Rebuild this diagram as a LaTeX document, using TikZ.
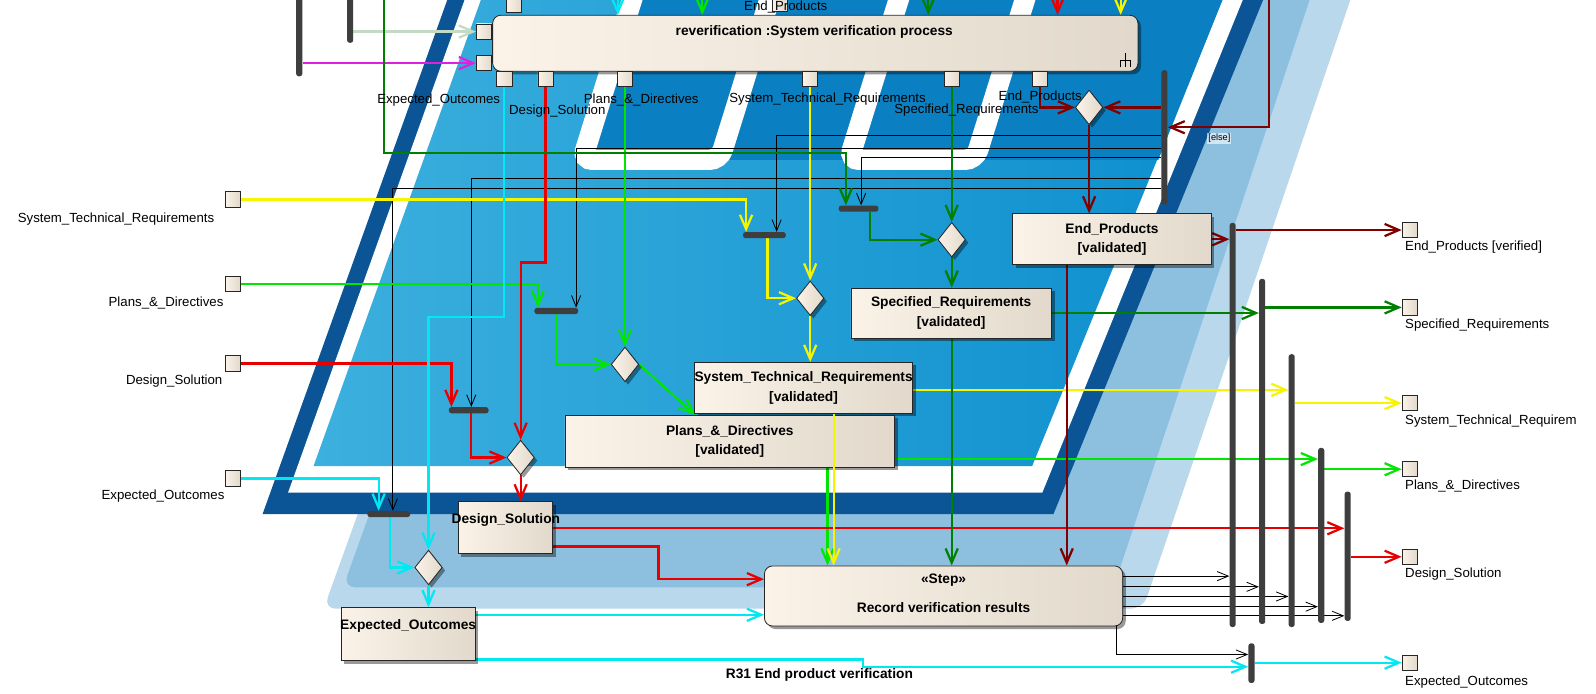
\documentclass[tikz,border=0pt]{standalone}
\usepackage{fontspec}
\setmainfont{Liberation Sans}
\usetikzlibrary{arrows.meta,shapes.geometric,calc,shadows}
\definecolor{nodeL}{RGB}{251,243,232}
\definecolor{nodeR}{RGB}{226,217,204}
\definecolor{lightbg}{RGB}{185,216,236}
\definecolor{medbg}{RGB}{141,192,223}
\definecolor{darkbg}{RGB}{11,85,151}
\definecolor{blueL}{RGB}{60,176,222}
\definecolor{blueR}{RGB}{12,142,206}
\definecolor{blueD}{RGB}{10,128,194}
\definecolor{cYellow}{RGB}{245,245,0}
\definecolor{cGreen}{RGB}{0,230,0}
\definecolor{cDGreen}{RGB}{0,128,0}
\definecolor{cRed}{RGB}{232,0,0}
\definecolor{cDRed}{RGB}{128,0,0}
\definecolor{cCyan}{RGB}{0,232,240}
\definecolor{cMag}{RGB}{224,32,224}
\definecolor{cPale}{RGB}{196,218,196}
\definecolor{barc}{RGB}{62,62,62}
\pgfdeclarelayer{bg}\pgfdeclarelayer{conn}\pgfsetlayers{bg,conn,main}
\begin{document}
\begin{tikzpicture}[x=1pt,y=-1pt,
  every node/.style={font=\fontsize{13}{15}\selectfont},
  shad/.style={drop shadow={shadow xshift=3pt,shadow yshift=-3pt,fill=black,opacity=0.4}},
  objbox/.style={draw=black!85,line width=0.8pt,left color=nodeL,right color=nodeR,align=center,inner sep=0pt,font=\fontsize{13.5}{19}\selectfont\bfseries,shad},
  procbox/.style={objbox,rounded corners=8pt},
  pinbox/.style={draw=black!85,line width=0.8pt,left color=nodeL,right color=nodeR,minimum size=15pt,inner sep=0pt},
  dmd/.style={diamond,draw=black!85,line width=0.8pt,left color=nodeL,right color=nodeR,minimum width=27pt,minimum height=34pt,inner sep=0pt,shad},
  hbar/.style={fill=barc,rounded corners=2.5pt,inner sep=0pt,minimum height=6pt},
  vbar/.style={fill=barc,rounded corners=2.5pt,inner sep=0pt,minimum width=6pt},
  carr/.style={-{Straight Barb[length=14pt,width=12pt]},line width=2.2pt},
  barr/.style={-{Straight Barb[length=11pt,width=9pt]},line width=0.8pt,black},
  bold/.style={font=\fontsize{13.5}{16}\selectfont\bfseries}
]
\useasboundingbox (0,0) rectangle (1568,681);
% ---------- background ----------
\begin{pgfonlayer}{bg}
\fill[white] (0,0) rectangle (1568,681);
\fill[lightbg,rounded corners=12pt] (537,-10) -- (1330,-10) -- (1123,598) -- (318,598) -- cycle;
\fill[medbg,rounded corners=12pt] (548,-10) -- (1290,-10) -- (1094,577) -- (337,577) -- cycle;
\fill[darkbg] (443,-10) -- (1245,-10) -- (1035,505) -- (258,505) -- cycle;
\fill[white] (460,-10) -- (1225,-10) -- (1024,484) -- (283,484) -- cycle;
\shade[left color=blueL,right color=blueR] (476,-10) -- (1205,-10) -- (1014,458) -- (308,458) -- cycle;
\fill[blueD] (627,-10) -- (572,157) -- (1138,157) -- (1205,-10) -- cycle;
\draw[white,line width=20pt,rounded corners=10pt] (627,-20) -- (572,157) -- (707,157) -- (762,-20);
\draw[white,line width=20pt,rounded corners=10pt] (889,-20) -- (834,157) -- (958,157) -- (1013,-20);
\end{pgfonlayer}
% ---------- nodes ----------
\node[procbox,minimum width=634pt,minimum height=55pt] (PN) at (801,42.5) {};
\node[bold] (PNt) at (800,31) {reverification :System verification process};
\draw[line width=0.8pt] (1106,52) -- (1106,66) (1101,66) -- (1101,59) -- (1111,59) -- (1111,66);
\node[pinbox] (pinA) at (475.5,31) {};
\node[pinbox] (pinB) at (475.5,62) {};
\node[pinbox] (pEO) at (495.5,77.5) {};
\node[pinbox] (pDS) at (536,77.5) {};
\node[pinbox] (pPD) at (614,77.5) {};
\node[pinbox] (pSTR) at (796,77.5) {};
\node[pinbox] (pSR) at (935,77.5) {};
\node[pinbox] (pEP) at (1022,77.5) {};
\node[pinbox] (tp1) at (505,5) {};
\node[pinbox] (tp2) at (766,4) {};
\node (tpl) at (772,6.5) {End\_Products};
\node (lbEO) at (431,98.5) {Expected\_Outcomes};
\node (lbDS) at (547.5,109.5) {Design\_Solution};
\node (lbPD) at (630,98.5) {Plans\_\&\_Directives};
\node (lbSTR) at (813,97) {System\_Technical\_Requirements};
\node (lbSR) at (949.5,108) {Specified\_Requirements};
\node (lbEP) at (1022,95) {End\_Products};
% left pins
\node[pinbox] (lpSTR) at (228.5,196) {};
\node[pinbox] (lpPD) at (228.5,279) {};
\node[pinbox] (lpDS) at (228.5,357) {};
\node[pinbox] (lpEO) at (228.5,470) {};
\node[anchor=east] (llSTR) at (214,215) {System\_Technical\_Requirements};
\node[anchor=east] (llPD) at (223,297.5) {Plans\_\&\_Directives};
\node[anchor=east] (llDS) at (222,374) {Design\_Solution};
\node[anchor=east] (llEO) at (224,487) {Expected\_Outcomes};
% right pins
\node[pinbox] (rpEP) at (1385,226) {};
\node[pinbox] (rpSR) at (1385,302) {};
\node[pinbox] (rpSTR) at (1385,396) {};
\node[pinbox] (rpPD) at (1385,461) {};
\node[pinbox] (rpDS) at (1385,547) {};
\node[pinbox] (rpEO) at (1385,651) {};
\node[anchor=west] (rlEP) at (1377,243) {End\_Products [verified]};
\node[anchor=west] (rlSR) at (1377,319) {Specified\_Requirements};
\node[anchor=west] (rlSTR) at (1377,414) {System\_Technical\_Requirem};
\node[anchor=west] (rlPD) at (1377,477) {Plans\_\&\_Directives};
\node[anchor=west] (rlDS) at (1377,564) {Design\_Solution};
\node[anchor=west] (rlEO) at (1377,670) {Expected\_Outcomes};
% object nodes
\node[objbox,minimum width=195pt,minimum height=50pt] (EPV) at (1092.5,235) {End\_Products\\{[validated]}};
\node[objbox,minimum width=197pt,minimum height=49pt] (SRV) at (934.5,307.5) {Specified\_Requirements\\{[validated]}};
\node[objbox,minimum width=199pt,minimum height=50pt] (STRV) at (789.5,381) {System\_Technical\_Requirements\\{[validated]}};
\node[objbox,minimum width=324pt,minimum height=51pt] (PDV) at (717,433.5) {Plans\_\&\_Directives\\{[validated]}};
\node[objbox,minimum width=93pt,minimum height=51pt] (DSN) at (496.5,518.5) {};
\node[bold] (DSNt) at (497,511) {Design\_Solution};
\node[objbox,minimum width=132pt,minimum height=52pt] (EON) at (401,623) {};
\node[bold] (EONt) at (401,615) {Expected\_Outcomes};
\node[procbox,minimum width=352pt,minimum height=59pt] (Rec) at (927,585.5) {};
\node[bold] (Rect1) at (927,570) {«Step»};
\node[bold] (Rect2) at (927,597) {Record verification results};
\node[bold] (R31) at (805,663) {R31 End product verification};
% decisions
\node[dmd] (Dep) at (1070,105.5) {};
\node[dmd] (Dsr) at (935,235.5) {};
\node[dmd] (Dstr) at (796,293) {};
\node[dmd] (Dpd) at (614,358) {};
\node[dmd] (Dds) at (511.5,449.5) {};
\node[dmd] (Deo) at (421,557.5) {};
% forks / joins
\node[hbar,minimum width=39pt] (Fsr) at (843.5,205) {};
\node[hbar,minimum width=42pt] (Fstr) at (751,231) {};
\node[hbar,minimum width=43pt] (Fpd) at (546.5,305.5) {};
\node[hbar,minimum width=39pt] (Fds) at (460.5,403) {};
\node[hbar,minimum width=42pt] (Feo) at (382,505) {};
\node[vbar,minimum height=132pt] (J0) at (1144,135) {};
\node[vbar,minimum height=397pt] (J1) at (1211,417.5) {};
\node[vbar,minimum height=339pt] (J2) at (1240,443.5) {};
\node[vbar,minimum height=268pt] (J3) at (1269,482) {};
\node[vbar,minimum height=172pt] (J4) at (1298,526) {};
\node[vbar,minimum height=127pt] (J5) at (1324,546.5) {};
\node[vbar,minimum height=39pt] (J6) at (1229.5,651.5) {};
\node[vbar,minimum height=85pt] (B1) at (294,32.5) {};
\node[vbar,minimum height=52pt] (B2) at (344,16) {};
\node[font=\fontsize{9}{10}\selectfont,fill=white,fill opacity=0.6,text opacity=1,inner sep=1pt] (els) at (1198,136) {[else]};
% helper coordinates
\coordinate (yk1) at (0,133.5); \coordinate (yk2) at (0,145.5); \coordinate (yk3) at (0,155);
\coordinate (yk4) at (0,175); \coordinate (yk5) at (0,185);
\coordinate (yr1) at (0,566); \coordinate (yr2) at (0,576.5); \coordinate (yr3) at (0,586);
\coordinate (yr4) at (0,596); \coordinate (yr5) at (0,605);
\coordinate (xr6) at (1097,0); \coordinate (yr6) at (0,643);
\coordinate (xy) at (819,0); \coordinate (yy) at (0,383);
\coordinate (xg) at (683,0); \coordinate (xg2) at (813,0); \coordinate (ypd) at (0,451);
\coordinate (rj) at (511.5,258); \coordinate (yd1) at (0,519); \coordinate (rk) at (647,537); \coordinate (yd3) at (0,569);
\coordinate (ck) at (421,311.5); \coordinate (ye1) at (0,604); \coordinate (ce1) at (848,648); \coordinate (ye2) at (0,655);
\coordinate (gtop) at (377,-10); \coordinate (g1) at (377,150);
\coordinate (rtop) at (1247,-10); \coordinate (yer) at (0,125); \coordinate (xer) at (1048,0);
\coordinate (tc) at (607,-10); \coordinate (tg) at (690,-10); \coordinate (tdg) at (912,-10);
\coordinate (tr) at (1039,-10); \coordinate (ty) at (1101,-10);
% ---------- connectors ----------
\begin{pgfonlayer}{conn}
% black control flows
\draw[barr] (J0.west |- yk1) -| ($(Fstr.north)+(12,0)$);
\draw[barr] (J0.west |- yk2) -| ($(Fpd.north)+(19.5,0)$);
\draw[barr] (J0.west |- yk3) -| ($(Fsr.north)+(2.5,0)$);
\draw[barr] (J0.west |- yk4) -| ($(Fds.north)+(2.5,0)$);
\draw[barr] (J0.west |- yk5) -| ($(Feo.north)+(4,0)$);
\draw[barr] (Rec.east |- yr1) -- (J1.west |- yr1);
\draw[barr] (Rec.east |- yr2) -- (J2.west |- yr2);
\draw[barr] (Rec.east |- yr3) -- (J3.west |- yr3);
\draw[barr] (Rec.east |- yr4) -- (J4.west |- yr4);
\draw[barr] (Rec.east |- yr5) -- (J5.west |- yr5);
\draw[barr] (Rec.south -| xr6) |- (J6.west |- yr6);
% top incoming
\draw[carr,cCyan] (tc) -- (PN.north -| tc);
\draw[carr,cGreen] (tg) -- (PN.north -| tg);
\draw[carr,cDGreen] (tdg) -- (PN.north -| tdg);
\draw[carr,cRed] (tr) -- (PN.north -| tr);
\draw[carr,cYellow] (ty) -- (PN.north -| ty);
\draw[carr,cPale] (B2.east |- pinA) -- (pinA.west);
\draw[carr,cMag] (B1.east |- pinB) -- (pinB.west);
% yellow
\draw[carr,cYellow] (lpSTR.east) -| ($(Fstr.north)+(-18,0)$);
\draw[carr,cYellow] ($(Fstr.south)+(3,0)$) |- (Dstr.west);
\draw[carr,cYellow] (pSTR.south) -- (Dstr.north);
\draw[carr,cYellow] (Dstr.south) -- (STRV.north -| Dstr.south);
\draw[carr,cYellow] (STRV.east |- yy) -- (J3.west |- yy);
\draw[carr,cYellow] (J3.east |- rpSTR) -- (rpSTR.west);
% bright green
\draw[carr,cGreen] (lpPD.east) -| ($(Fpd.north)+(-18,0)$);
\draw[carr,cGreen] (Fpd.south) |- (Dpd.west);
\draw[carr,cGreen] (pPD.south) -- (Dpd.north);
\draw[carr,cGreen] (Dpd.east) -- (PDV.north -| xg);
\draw[carr,cGreen] (PDV.south -| xg2) -- (Rec.north -| xg2);
\draw[carr,cGreen] (PDV.east |- ypd) -- (J4.west |- ypd);
\draw[carr,cGreen] (J4.east |- rpPD) -- (rpPD.west);
% red
\draw[carr,cRed] (lpDS.east) -| ($(Fds.north)+(-17,0)$);
\draw[carr,cRed] ($(Fds.south)+(2.5,0)$) |- (Dds.west);
\draw[carr,cRed] (pDS.south) |- (rj) -- (Dds.north);
\draw[carr,cRed] (Dds.south) -- (DSN.north -| Dds.south);
\draw[carr,cRed] (DSN.east |- yd1) -- (J5.west |- yd1);
\draw[carr,cRed] (DSN.east |- rk) -- (rk) |- (Rec.west |- yd3);
\draw[carr,cRed] (J5.east |- rpDS) -- (rpDS.west);
% cyan
\draw[carr,cCyan] (lpEO.east) -| ($(Feo.north)+(-10,0)$);
\draw[carr,cCyan] ($(Feo.south)+(1,0)$) |- (Deo.west);
\draw[carr,cCyan] (pEO.south) |- (ck) -- (Deo.north);
\draw[carr,cCyan] (Deo.south) -- (EON.north -| Deo.south);
\draw[carr,cCyan] (EON.east |- ye1) -- (Rec.west |- ye1);
\draw[carr,cCyan] (EON.east |- ce1) -- (ce1) |- (J6.west |- ye2);
\draw[carr,cCyan] (J6.east |- rpEO) -- (rpEO.west);
% dark green
\draw[carr,cDGreen] (gtop) -- (g1) -| ($(Fsr.north)+(-12.5,0)$);
\draw[carr,cDGreen] ($(Fsr.south)+(11.5,0)$) |- (Dsr.west);
\draw[carr,cDGreen] (pSR.south) -- (Dsr.north);
\draw[carr,cDGreen] (Dsr.south) -- (SRV.north -| Dsr.south);
\draw[carr,cDGreen] (SRV.south -| Dsr.south) -- (Rec.north -| Dsr.south);
\draw[carr,cDGreen] (SRV.east) -- (J2.west |- SRV.east);
\draw[carr,cDGreen] (J2.east |- rpSR) -- (rpSR.west);
% dark red
\draw[carr,cDRed] (rtop) |- (J0.east |- yer);
\draw[carr,cDRed] (J0.west |- Dep.west) -- (Dep.east);
\draw[carr,cDRed] (pEP.south) |- (Dep.west);
\draw[carr,cDRed] (Dep.south) -- (EPV.north -| Dep.south);
\draw[carr,cDRed] (EPV.south -| xer) -- (Rec.north -| xer);
\draw[carr,cDRed] (EPV.east) -- (J1.west |- EPV.east);
\draw[carr,cDRed] (J1.east |- rpEP) -- (rpEP.west);
\end{pgfonlayer}
% yellow flow drawn over the Plans node
\draw[carr,cYellow] (STRV.south -| xy) -- (Rec.north -| xy);
\end{tikzpicture}
\end{document}
